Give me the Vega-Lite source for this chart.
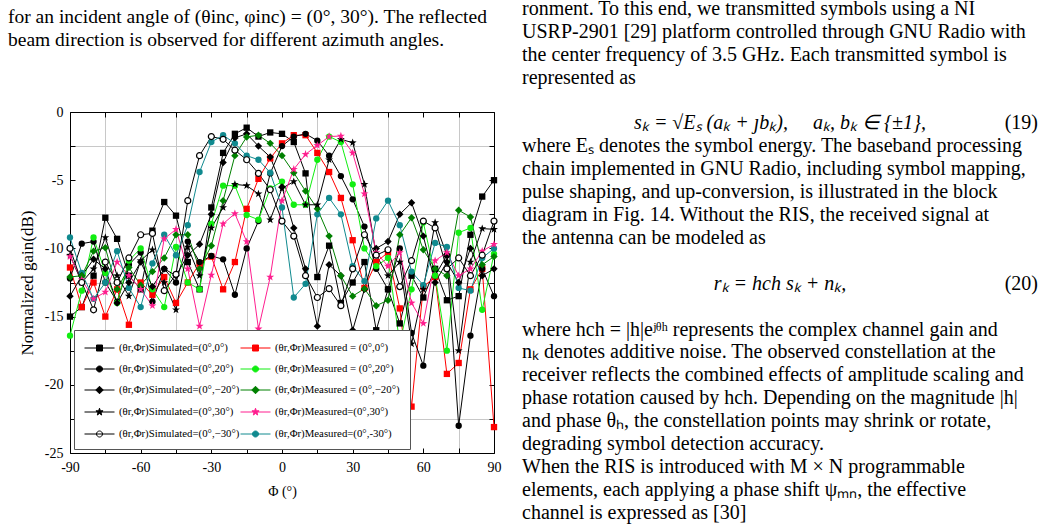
{
"$schema": "https://vega.github.io/schema/vega-lite/v6.json",
"autosize": "pad",
"padding": {"left": 8, "top": -2, "right": 0, "bottom": 0},
"bounds": "flush",
"spacing": 26,
"resolve": {"legend": {"fill": "independent", "stroke": "independent", "shape": "independent"}, "scale": {"fill": "independent", "stroke": "independent", "shape": "independent"}},
"config": {
  "view": {"stroke": null},
  "font": "Liberation Serif",
  "axis": {"domainColor": "black", "tickColor": "black", "labelColor": "black", "labelFont": "Liberation Serif", "labelFontSize": 14, "titleFont": "Liberation Serif", "titleFontSize": 14, "titleFontWeight": "normal", "titleColor": "black", "labelOverlap": false, "labelFlush": false},
  "legend": {"orient": "bottom-left", "offset": 4, "columns": 2, "strokeColor": "#555555", "fillColor": "white", "padding": 10, "rowPadding": 8, "columnPadding": -8, "symbolSize": 225, "symbolStrokeWidth": 1, "labelFont": "Liberation Serif", "labelFontSize": 10.8, "labelOffset": 19, "labelColor": "black", "labelLimit": 0}
},
"hconcat": [
{
  "width": 424, "height": 341,
  "title": {"text": ["for an incident angle of (θinc, φinc) = (0°, 30°). The reflected", "beam direction is observed for different azimuth angles."], "anchor": "start", "frame": "group", "dx": -62, "offset": 55, "fontSize": 19.5, "font": "Liberation Serif", "fontWeight": "normal", "lineHeight": 23, "color": "black"},
  "data": {"values": [
{"s":"S0","p":-90,"g":-15},{"s":"S0","p":-85,"g":-14.3},{"s":"S0","p":-80,"g":-12},{"s":"S0","p":-75,"g":-7.75},{"s":"S0","p":-70,"g":-9.3},{"s":"S0","p":-65,"g":-12},{"s":"S0","p":-60,"g":-13},{"s":"S0","p":-55,"g":-8.7},{"s":"S0","p":-50,"g":-6.6},{"s":"S0","p":-45,"g":-7.6},{"s":"S0","p":-40,"g":-11},{"s":"S0","p":-35,"g":-13},{"s":"S0","p":-30,"g":-7},{"s":"S0","p":-25,"g":-3},{"s":"S0","p":-20,"g":-1.6},{"s":"S0","p":-15,"g":-1.15},{"s":"S0","p":-10,"g":-1.8},{"s":"S0","p":-5,"g":-1.5},{"s":"S0","p":0,"g":-1.6},{"s":"S0","p":5,"g":-2.2},{"s":"S0","p":10,"g":-4.5},{"s":"S0","p":15,"g":-12.1},{"s":"S0","p":20,"g":-9.8},{"s":"S0","p":25,"g":-14},{"s":"S0","p":30,"g":-12.5},{"s":"S0","p":35,"g":-11},{"s":"S0","p":40,"g":-16},{"s":"S0","p":45,"g":-13},{"s":"S0","p":50,"g":-15.5},{"s":"S0","p":55,"g":-12},{"s":"S0","p":60,"g":-13.6},{"s":"S0","p":65,"g":-11.5},{"s":"S0","p":70,"g":-13.8},{"s":"S0","p":75,"g":-13.5},{"s":"S0","p":80,"g":-9},{"s":"S0","p":85,"g":-6.2},{"s":"S0","p":90,"g":-5},
{"s":"M0","p":-90,"g":-11.4},{"s":"M0","p":-85,"g":-14.3},{"s":"M0","p":-80,"g":-12.5},{"s":"M0","p":-75,"g":-15},{"s":"M0","p":-70,"g":-13},{"s":"M0","p":-65,"g":-15.6},{"s":"M0","p":-60,"g":-12.5},{"s":"M0","p":-55,"g":-13.4},{"s":"M0","p":-50,"g":-12.1},{"s":"M0","p":-45,"g":-14},{"s":"M0","p":-40,"g":-12.5},{"s":"M0","p":-35,"g":-11.1},{"s":"M0","p":-30,"g":-10.6},{"s":"M0","p":-25,"g":-13},{"s":"M0","p":-20,"g":-11},{"s":"M0","p":-15,"g":-7.1},{"s":"M0","p":-10,"g":-4.9},{"s":"M0","p":-5,"g":-3.4},{"s":"M0","p":0,"g":-2.3},{"s":"M0","p":5,"g":-1.7},{"s":"M0","p":10,"g":-1.7},{"s":"M0","p":15,"g":-3},{"s":"M0","p":20,"g":-4.4},{"s":"M0","p":25,"g":-6.3},{"s":"M0","p":30,"g":-9.4},{"s":"M0","p":35,"g":-12.9},{"s":"M0","p":40,"g":-11},{"s":"M0","p":45,"g":-10.3},{"s":"M0","p":50,"g":-14.4},{"s":"M0","p":55,"g":-21.6},{"s":"M0","p":60,"g":-12.8},{"s":"M0","p":65,"g":-12.1},{"s":"M0","p":70,"g":-19.2},{"s":"M0","p":75,"g":-18.4},{"s":"M0","p":80,"g":-13},{"s":"M0","p":85,"g":-11.5},{"s":"M0","p":90,"g":-23.1},
{"s":"S20","p":-90,"g":-12.2},{"s":"S20","p":-85,"g":-9.65},{"s":"S20","p":-80,"g":-9.5},{"s":"S20","p":-75,"g":-12.5},{"s":"S20","p":-70,"g":-13.9},{"s":"S20","p":-65,"g":-11.2},{"s":"S20","p":-60,"g":-10.3},{"s":"S20","p":-55,"g":-13.9},{"s":"S20","p":-50,"g":-11.5},{"s":"S20","p":-45,"g":-12.5},{"s":"S20","p":-40,"g":-9.5},{"s":"S20","p":-35,"g":-11},{"s":"S20","p":-30,"g":-10.55},{"s":"S20","p":-25,"g":-10.8},{"s":"S20","p":-20,"g":-13.4},{"s":"S20","p":-15,"g":-10},{"s":"S20","p":-10,"g":-8},{"s":"S20","p":-5,"g":-4.5},{"s":"S20","p":0,"g":-2.5},{"s":"S20","p":5,"g":-1.8},{"s":"S20","p":10,"g":-1.6},{"s":"S20","p":15,"g":-2.1},{"s":"S20","p":20,"g":-3.2},{"s":"S20","p":25,"g":-4.7},{"s":"S20","p":30,"g":-6.4},{"s":"S20","p":35,"g":-8.4},{"s":"S20","p":40,"g":-11.5},{"s":"S20","p":45,"g":-13},{"s":"S20","p":50,"g":-10},{"s":"S20","p":55,"g":-16.2},{"s":"S20","p":60,"g":-18.6},{"s":"S20","p":65,"g":-12},{"s":"S20","p":70,"g":-10.5},{"s":"S20","p":75,"g":-23},{"s":"S20","p":80,"g":-16.4},{"s":"S20","p":85,"g":-11.5},{"s":"S20","p":90,"g":-13.5},
{"s":"M20","p":-90,"g":-16.4},{"s":"M20","p":-85,"g":-13.1},{"s":"M20","p":-80,"g":-9.2},{"s":"M20","p":-75,"g":-11.8},{"s":"M20","p":-70,"g":-14},{"s":"M20","p":-65,"g":-10.9},{"s":"M20","p":-60,"g":-10},{"s":"M20","p":-55,"g":-13},{"s":"M20","p":-50,"g":-14.3},{"s":"M20","p":-45,"g":-9.9},{"s":"M20","p":-40,"g":-12.5},{"s":"M20","p":-35,"g":-13},{"s":"M20","p":-30,"g":-8.2},{"s":"M20","p":-25,"g":-5.4},{"s":"M20","p":-20,"g":-5.4},{"s":"M20","p":-15,"g":-7.55},{"s":"M20","p":-10,"g":-7.9},{"s":"M20","p":-5,"g":-5.6},{"s":"M20","p":0,"g":-5.1},{"s":"M20","p":5,"g":-6.8},{"s":"M20","p":10,"g":-6.8},{"s":"M20","p":15,"g":-3.5},{"s":"M20","p":20,"g":-1.8},{"s":"M20","p":25,"g":-2.2},{"s":"M20","p":30,"g":-5.3},{"s":"M20","p":35,"g":-10},{"s":"M20","p":40,"g":-11.3},{"s":"M20","p":45,"g":-10.7},{"s":"M20","p":50,"g":-17},{"s":"M20","p":55,"g":-13},{"s":"M20","p":60,"g":-8.1},{"s":"M20","p":65,"g":-12},{"s":"M20","p":70,"g":-17.5},{"s":"M20","p":75,"g":-8.85},{"s":"M20","p":80,"g":-8.5},{"s":"M20","p":85,"g":-14.5},{"s":"M20","p":90,"g":-10.4},
{"s":"Sn20","p":-90,"g":-13.5},{"s":"Sn20","p":-85,"g":-12},{"s":"Sn20","p":-80,"g":-10.8},{"s":"Sn20","p":-75,"g":-11.5},{"s":"Sn20","p":-70,"g":-14},{"s":"Sn20","p":-65,"g":-12.5},{"s":"Sn20","p":-60,"g":-11},{"s":"Sn20","p":-55,"g":-12.8},{"s":"Sn20","p":-50,"g":-11.5},{"s":"Sn20","p":-45,"g":-12},{"s":"Sn20","p":-40,"g":-10.5},{"s":"Sn20","p":-35,"g":-9.7},{"s":"Sn20","p":-30,"g":-7.5},{"s":"Sn20","p":-25,"g":-3.7},{"s":"Sn20","p":-20,"g":-1.9},{"s":"Sn20","p":-15,"g":-1.6},{"s":"Sn20","p":-10,"g":-2.5},{"s":"Sn20","p":-5,"g":-3.3},{"s":"Sn20","p":0,"g":-5.5},{"s":"Sn20","p":5,"g":-8.5},{"s":"Sn20","p":10,"g":-11.5},{"s":"Sn20","p":15,"g":-15.7},{"s":"Sn20","p":20,"g":-11.2},{"s":"Sn20","p":25,"g":-12},{"s":"Sn20","p":30,"g":-16},{"s":"Sn20","p":35,"g":-13},{"s":"Sn20","p":40,"g":-10},{"s":"Sn20","p":45,"g":-9.5},{"s":"Sn20","p":50,"g":-7.5},{"s":"Sn20","p":55,"g":-6.65},{"s":"Sn20","p":60,"g":-9.1},{"s":"Sn20","p":65,"g":-12.5},{"s":"Sn20","p":70,"g":-11},{"s":"Sn20","p":75,"g":-12.5},{"s":"Sn20","p":80,"g":-10},{"s":"Sn20","p":85,"g":-12},{"s":"Sn20","p":90,"g":-11.5},
{"s":"Mn20","p":-90,"g":-12.1},{"s":"Mn20","p":-85,"g":-12},{"s":"Mn20","p":-80,"g":-10.2},{"s":"Mn20","p":-75,"g":-9.95},{"s":"Mn20","p":-70,"g":-13},{"s":"Mn20","p":-65,"g":-11.4},{"s":"Mn20","p":-60,"g":-12.7},{"s":"Mn20","p":-55,"g":-11.7},{"s":"Mn20","p":-50,"g":-10.7},{"s":"Mn20","p":-45,"g":-9},{"s":"Mn20","p":-40,"g":-9},{"s":"Mn20","p":-35,"g":-11.5},{"s":"Mn20","p":-30,"g":-9.8},{"s":"Mn20","p":-25,"g":-6.5},{"s":"Mn20","p":-20,"g":-3.2},{"s":"Mn20","p":-15,"g":-1.83},{"s":"Mn20","p":-10,"g":-1.7},{"s":"Mn20","p":-5,"g":-2.3},{"s":"Mn20","p":0,"g":-3.2},{"s":"Mn20","p":5,"g":-4.45},{"s":"Mn20","p":10,"g":-5.8},{"s":"Mn20","p":15,"g":-7.1},{"s":"Mn20","p":20,"g":-9.1},{"s":"Mn20","p":25,"g":-12},{"s":"Mn20","p":30,"g":-13.5},{"s":"Mn20","p":35,"g":-12.95},{"s":"Mn20","p":40,"g":-14.2},{"s":"Mn20","p":45,"g":-13.8},{"s":"Mn20","p":50,"g":-9},{"s":"Mn20","p":55,"g":-7.75},{"s":"Mn20","p":60,"g":-10.1},{"s":"Mn20","p":65,"g":-11.5},{"s":"Mn20","p":70,"g":-12},{"s":"Mn20","p":75,"g":-7.2},{"s":"Mn20","p":80,"g":-7.7},{"s":"Mn20","p":85,"g":-11.2},{"s":"Mn20","p":90,"g":-10.6},
{"s":"S30","p":-90,"g":-10.5},{"s":"S30","p":-85,"g":-12.5},{"s":"S30","p":-80,"g":-11.5},{"s":"S30","p":-75,"g":-9.2},{"s":"S30","p":-70,"g":-12},{"s":"S30","p":-65,"g":-13.5},{"s":"S30","p":-60,"g":-10.9},{"s":"S30","p":-55,"g":-10.1},{"s":"S30","p":-50,"g":-12.5},{"s":"S30","p":-45,"g":-14.5},{"s":"S30","p":-40,"g":-9.9},{"s":"S30","p":-35,"g":-12},{"s":"S30","p":-30,"g":-8.5},{"s":"S30","p":-25,"g":-7},{"s":"S30","p":-20,"g":-5.3},{"s":"S30","p":-15,"g":-5.4},{"s":"S30","p":-10,"g":-6},{"s":"S30","p":-5,"g":-7.9},{"s":"S30","p":0,"g":-5.6},{"s":"S30","p":5,"g":-5.1},{"s":"S30","p":10,"g":-6.8},{"s":"S30","p":15,"g":-6.8},{"s":"S30","p":20,"g":-3.5},{"s":"S30","p":25,"g":-2},{"s":"S30","p":30,"g":-2.25},{"s":"S30","p":35,"g":-5.3},{"s":"S30","p":40,"g":-10.5},{"s":"S30","p":45,"g":-12},{"s":"S30","p":50,"g":-11},{"s":"S30","p":55,"g":-17},{"s":"S30","p":60,"g":-13},{"s":"S30","p":65,"g":-8.1},{"s":"S30","p":70,"g":-10.5},{"s":"S30","p":75,"g":-17.5},{"s":"S30","p":80,"g":-11},{"s":"S30","p":85,"g":-8.55},{"s":"S30","p":90,"g":-8.6},
{"s":"M30","p":-90,"g":-10.6},{"s":"M30","p":-85,"g":-12.3},{"s":"M30","p":-80,"g":-13.7},{"s":"M30","p":-75,"g":-13.2},{"s":"M30","p":-70,"g":-11},{"s":"M30","p":-65,"g":-12},{"s":"M30","p":-60,"g":-13},{"s":"M30","p":-55,"g":-14.2},{"s":"M30","p":-50,"g":-9.3},{"s":"M30","p":-45,"g":-8.6},{"s":"M30","p":-40,"g":-11.5},{"s":"M30","p":-35,"g":-15.7},{"s":"M30","p":-30,"g":-11.95},{"s":"M30","p":-25,"g":-8.2},{"s":"M30","p":-20,"g":-7.45},{"s":"M30","p":-15,"g":-9.5},{"s":"M30","p":-10,"g":-15.9},{"s":"M30","p":-5,"g":-12.1},{"s":"M30","p":0,"g":-6.5},{"s":"M30","p":5,"g":-4.2},{"s":"M30","p":10,"g":-3.1},{"s":"M30","p":15,"g":-2.45},{"s":"M30","p":20,"g":-1.8},{"s":"M30","p":25,"g":-1.76},{"s":"M30","p":30,"g":-3},{"s":"M30","p":35,"g":-6},{"s":"M30","p":40,"g":-10.3},{"s":"M30","p":45,"g":-11.3},{"s":"M30","p":50,"g":-10.3},{"s":"M30","p":55,"g":-14},{"s":"M30","p":60,"g":-15.5},{"s":"M30","p":65,"g":-10.9},{"s":"M30","p":70,"g":-10.3},{"s":"M30","p":75,"g":-12},{"s":"M30","p":80,"g":-11.5},{"s":"M30","p":85,"g":-10.2},{"s":"M30","p":90,"g":-9.7},
{"s":"Sn30","p":-90,"g":-10},{"s":"Sn30","p":-85,"g":-12.5},{"s":"Sn30","p":-80,"g":-14.5},{"s":"Sn30","p":-75,"g":-11},{"s":"Sn30","p":-70,"g":-12.5},{"s":"Sn30","p":-65,"g":-10.7},{"s":"Sn30","p":-60,"g":-9},{"s":"Sn30","p":-55,"g":-8.9},{"s":"Sn30","p":-50,"g":-13.1},{"s":"Sn30","p":-45,"g":-11.9},{"s":"Sn30","p":-40,"g":-6.5},{"s":"Sn30","p":-35,"g":-3.2},{"s":"Sn30","p":-30,"g":-1.8},{"s":"Sn30","p":-25,"g":-2},{"s":"Sn30","p":-20,"g":-2.8},{"s":"Sn30","p":-15,"g":-3.5},{"s":"Sn30","p":-10,"g":-4.5},{"s":"Sn30","p":-5,"g":-5.7},{"s":"Sn30","p":0,"g":-8},{"s":"Sn30","p":5,"g":-9.1},{"s":"Sn30","p":10,"g":-12},{"s":"Sn30","p":15,"g":-13.6},{"s":"Sn30","p":20,"g":-12.95},{"s":"Sn30","p":25,"g":-14.2},{"s":"Sn30","p":30,"g":-11.5},{"s":"Sn30","p":35,"g":-9},{"s":"Sn30","p":40,"g":-10.5},{"s":"Sn30","p":45,"g":-10.1},{"s":"Sn30","p":50,"g":-12.8},{"s":"Sn30","p":55,"g":-10.9},{"s":"Sn30","p":60,"g":-8},{"s":"Sn30","p":65,"g":-8.5},{"s":"Sn30","p":70,"g":-11.5},{"s":"Sn30","p":75,"g":-10.7},{"s":"Sn30","p":80,"g":-12},{"s":"Sn30","p":85,"g":-10.5},{"s":"Sn30","p":90,"g":-8},
{"s":"Mn30","p":-90,"g":-9.2},{"s":"Mn30","p":-85,"g":-11.8},{"s":"Mn30","p":-80,"g":-13.7},{"s":"Mn30","p":-75,"g":-12.5},{"s":"Mn30","p":-70,"g":-10.2},{"s":"Mn30","p":-65,"g":-12.9},{"s":"Mn30","p":-60,"g":-14.3},{"s":"Mn30","p":-55,"g":-11.1},{"s":"Mn30","p":-50,"g":-9},{"s":"Mn30","p":-45,"g":-10.5},{"s":"Mn30","p":-40,"g":-8.3},{"s":"Mn30","p":-35,"g":-4.4},{"s":"Mn30","p":-30,"g":-2.2},{"s":"Mn30","p":-25,"g":-1.7},{"s":"Mn30","p":-20,"g":-2.3},{"s":"Mn30","p":-15,"g":-3.2},{"s":"Mn30","p":-10,"g":-3.5},{"s":"Mn30","p":-5,"g":-4.45},{"s":"Mn30","p":0,"g":-7},{"s":"Mn30","p":5,"g":-13.6},{"s":"Mn30","p":10,"g":-12.6},{"s":"Mn30","p":15,"g":-7.5},{"s":"Mn30","p":20,"g":-6.3},{"s":"Mn30","p":25,"g":-7.5},{"s":"Mn30","p":30,"g":-11.3},{"s":"Mn30","p":35,"g":-12.4},{"s":"Mn30","p":40,"g":-7.8},{"s":"Mn30","p":45,"g":-6.5},{"s":"Mn30","p":50,"g":-8.3},{"s":"Mn30","p":55,"g":-11.7},{"s":"Mn30","p":60,"g":-12.7},{"s":"Mn30","p":65,"g":-9.6},{"s":"Mn30","p":70,"g":-9.9},{"s":"Mn30","p":75,"g":-12.9},{"s":"Mn30","p":80,"g":-13.1},{"s":"Mn30","p":85,"g":-10.7},{"s":"Mn30","p":90,"g":-10}
  ]},
  "layer": [
    {
      "mark": {"type": "line", "strokeWidth": 1},
      "encoding": {
        "x": {"field": "p", "type": "quantitative", "scale": {"domain": [-90, 90], "nice": false, "zero": false},
              "axis": {"orient": "bottom", "values": [-90,-75,-60,-45,-30,-15,0,15,30,45,60,75,90], "labelExpr": "datum.value % 30 === 0 ? '' + datum.value : ''", "tickSize": -5, "labelPadding": 12, "grid": true, "gridColor": "#c8c8c8", "gridOpacity": {"condition": {"test": "datum.value % 30 === 0", "value": 0}, "value": 1}, "title": "Φ (°)", "titlePadding": 10}},
        "y": {"field": "g", "type": "quantitative", "scale": {"domain": [-25, 0], "nice": false, "zero": false},
              "axis": {"orient": "left", "values": [0,-2.5,-5,-7.5,-10,-12.5,-15,-17.5,-20,-22.5,-25], "labelExpr": "datum.value % 5 === 0 ? '' + datum.value : ''", "tickSize": -5, "labelPadding": 12, "grid": true, "gridColor": "#c8c8c8", "gridOpacity": {"condition": {"test": "datum.value % 5 === 0", "value": 0}, "value": 1}, "title": "Normalized gain(dB)", "titleFontSize": 17, "titlePadding": 8}},
        "color": {"field": "s", "type": "nominal", "scale": {"domain": ["S0","M0","S20","M20","Sn20","Mn20","S30","M30","Sn30","Mn30"], "range": ["#000000","#ff0000","#000000","#11ee11","#000000","#008000","#000000","#ff1f8f","#000000","#108a8f"]}, "legend": null}
      }
    },
    {
      "transform": [{"filter": "datum.s === 'S0' || datum.s === 'M0'"}],
      "mark": {"type": "point", "shape": "square", "filled": true, "size": 40, "opacity": 1},
      "encoding": {
        "x": {"field": "p", "type": "quantitative", "axis": {"orient": "top", "values": [-90,-75,-60,-45,-30,-15,0,15,30,45,60,75,90], "labels": false, "tickSize": -5, "grid": false, "title": null}},
        "y": {"field": "g", "type": "quantitative", "axis": {"orient": "right", "values": [0,-2.5,-5,-7.5,-10,-12.5,-15,-17.5,-20,-22.5,-25], "labels": false, "tickSize": -5, "grid": false, "title": null}},
        "color": {"field": "s", "type": "nominal", "legend": null}
      }
    },
    {
      "transform": [{"filter": "datum.s === 'S20' || datum.s === 'M20' || datum.s === 'Mn30'"}],
      "mark": {"type": "point", "shape": "circle", "filled": true, "size": 40, "opacity": 1},
      "encoding": {
        "x": {"field": "p", "type": "quantitative", "axis": null},
        "y": {"field": "g", "type": "quantitative", "axis": null},
        "color": {"field": "s", "type": "nominal", "legend": null}
      }
    },
    {
      "transform": [{"filter": "datum.s === 'Sn20' || datum.s === 'Mn20'"}],
      "mark": {"type": "point", "shape": "diamond", "filled": true, "size": 55, "opacity": 1},
      "encoding": {
        "x": {"field": "p", "type": "quantitative", "axis": null},
        "y": {"field": "g", "type": "quantitative", "axis": null},
        "color": {"field": "s", "type": "nominal", "legend": null}
      }
    },
    {
      "transform": [{"filter": "datum.s === 'S30' || datum.s === 'M30'"}],
      "mark": {"type": "point", "shape": "M0,-1L0.235,-0.324L0.951,-0.309L0.38,0.124L0.588,0.809L0,0.4L-0.588,0.809L-0.38,0.124L-0.951,-0.309L-0.235,-0.324Z", "filled": true, "size": 70, "opacity": 1},
      "encoding": {
        "x": {"field": "p", "type": "quantitative", "axis": null},
        "y": {"field": "g", "type": "quantitative", "axis": null},
        "color": {"field": "s", "type": "nominal", "legend": null}
      }
    },
    {
      "transform": [{"filter": "datum.s === 'Sn30'"}],
      "mark": {"type": "point", "shape": "circle", "filled": false, "fill": "white", "stroke": "black", "strokeWidth": 1.2, "size": 36, "opacity": 1},
      "encoding": {
        "x": {"field": "p", "type": "quantitative", "axis": null},
        "y": {"field": "g", "type": "quantitative", "axis": null}
      }
    },
    {
      "mark": {"type": "point", "filled": true, "opacity": 1, "fillOpacity": 0, "strokeOpacity": 0, "strokeWidth": 1},
      "encoding": {
        "x": {"field": "p", "type": "quantitative", "axis": null},
        "y": {"field": "g", "type": "quantitative", "axis": null},
        "fill": {"field": "s", "type": "nominal", "scale": {"domain": ["S0","S20","Sn20","S30","Sn30","M0","M20","Mn20","M30","Mn30"], "range": ["#000000","#000000","#000000","#000000","#ffffff","#ff0000","#11ee11","#008000","#ff1f8f","#108a8f"]},
                 "legend": {"title": null, "labelExpr": "{'S0':'(θr,Φr)Simulated=(0°,0°)','M0':'(θr,Φr)Measured = (0°,0°)','S20':'(θr,Φr)Simulated=(0°,20°)','M20':'(θr,Φr)Measured = (0°,20°)','Sn20':'(θr,Φr)Simulated=(0°,−20°)','Mn20':'(θr,Φr)Measured = (0°,−20°)','S30':'(θr,Φr)Simulated=(0°,30°)','M30':'(θr,Φr)Measured=(0°,30°)','Sn30':'(θr,Φr)Simulated=(0°,−30°)','Mn30':'(θr,Φr)Measured=(0°,-30°)'}[datum.label]", "encode": {"symbols": {"update": {"fillOpacity": {"value": 1}, "strokeOpacity": {"value": 1}, "opacity": {"value": 1}}}}}},
        "stroke": {"field": "s", "type": "nominal", "scale": {"domain": ["S0","S20","Sn20","S30","Sn30","M0","M20","Mn20","M30","Mn30"], "range": ["#000000","#000000","#000000","#000000","#000000","#ff0000","#11ee11","#008000","#ff1f8f","#108a8f"]},
                 "legend": {"title": null, "labelExpr": "{'S0':'(θr,Φr)Simulated=(0°,0°)','M0':'(θr,Φr)Measured = (0°,0°)','S20':'(θr,Φr)Simulated=(0°,20°)','M20':'(θr,Φr)Measured = (0°,20°)','Sn20':'(θr,Φr)Simulated=(0°,−20°)','Mn20':'(θr,Φr)Measured = (0°,−20°)','S30':'(θr,Φr)Simulated=(0°,30°)','M30':'(θr,Φr)Measured=(0°,30°)','Sn30':'(θr,Φr)Simulated=(0°,−30°)','Mn30':'(θr,Φr)Measured=(0°,-30°)'}[datum.label]", "encode": {"symbols": {"update": {"fillOpacity": {"value": 1}, "strokeOpacity": {"value": 1}, "opacity": {"value": 1}}}}}},
        "shape": {"field": "s", "type": "nominal", "scale": {"domain": ["S0","S20","Sn20","S30","Sn30","M0","M20","Mn20","M30","Mn30"], "range": [
            "M-1,0L3,0M0.6,-0.4L1.4,-0.4L1.4,0.4L0.6,0.4Z",
            "M-1,0L3,0M1.4,0A0.4,0.4,0,1,1,0.6,0A0.4,0.4,0,1,1,1.4,0Z",
            "M-1,0L3,0M1,-0.5L1.5,0L1,0.5L0.5,0Z",
            "M-1,0L3,0M1,-0.5L1.118,-0.162L1.476,-0.155L1.19,0.062L1.294,0.405L1,0.2L0.706,0.405L0.81,0.062L0.524,-0.155L0.882,-0.162Z",
            "M-1,0L3,0M1.4,0A0.4,0.4,0,1,1,0.6,0A0.4,0.4,0,1,1,1.4,0Z",
            "M-1,0L3,0M0.6,-0.4L1.4,-0.4L1.4,0.4L0.6,0.4Z",
            "M-1,0L3,0M1.4,0A0.4,0.4,0,1,1,0.6,0A0.4,0.4,0,1,1,1.4,0Z",
            "M-1,0L3,0M1,-0.5L1.5,0L1,0.5L0.5,0Z",
            "M-1,0L3,0M1,-0.5L1.118,-0.162L1.476,-0.155L1.19,0.062L1.294,0.405L1,0.2L0.706,0.405L0.81,0.062L0.524,-0.155L0.882,-0.162Z",
            "M-1,0L3,0M1.4,0A0.4,0.4,0,1,1,0.6,0A0.4,0.4,0,1,1,1.4,0Z"]},
                 "legend": {"title": null, "labelExpr": "{'S0':'(θr,Φr)Simulated=(0°,0°)','M0':'(θr,Φr)Measured = (0°,0°)','S20':'(θr,Φr)Simulated=(0°,20°)','M20':'(θr,Φr)Measured = (0°,20°)','Sn20':'(θr,Φr)Simulated=(0°,−20°)','Mn20':'(θr,Φr)Measured = (0°,−20°)','S30':'(θr,Φr)Simulated=(0°,30°)','M30':'(θr,Φr)Measured=(0°,30°)','Sn30':'(θr,Φr)Simulated=(0°,−30°)','Mn30':'(θr,Φr)Measured=(0°,-30°)'}[datum.label]", "encode": {"symbols": {"update": {"fillOpacity": {"value": 1}, "strokeOpacity": {"value": 1}, "opacity": {"value": 1}}}}}}
      }
    }
  ],
  "resolve": {"axis": {"x": "independent", "y": "independent"}}
},
{
  "width": 520, "height": 419,
  "data": {"values": [
    {"r": 0, "a": "l", "t": "ronment. To this end, we transmitted symbols using a NI"},
    {"r": 1, "a": "l", "t": "USRP-2901 [29] platform controlled through GNU Radio with"},
    {"r": 2, "a": "l", "t": "the center frequency of 3.5 GHz. Each transmitted symbol is"},
    {"r": 3, "a": "l", "t": "represented as"},
    {"r": 5, "a": "c", "t": "sₖ = √Eₛ (aₖ + ȷbₖ),\u00a0\u00a0\u00a0\u00a0\u00a0aₖ, bₖ ∈ {±1},"},
    {"r": 5, "a": "r", "t": "(19)"},
    {"r": 6, "a": "l", "t": "where Eₛ denotes the symbol energy. The baseband processing"},
    {"r": 7, "a": "l", "t": "chain implemented in GNU Radio, including symbol mapping,"},
    {"r": 8, "a": "l", "t": "pulse shaping, and up-conversion, is illustrated in the block"},
    {"r": 9, "a": "l", "t": "diagram in Fig. 14. Without the RIS, the received signal at"},
    {"r": 10, "a": "l", "t": "the antenna can be modeled as"},
    {"r": 12, "a": "c", "t": "rₖ = hch sₖ + nₖ,"},
    {"r": 12, "a": "r", "t": "(20)"},
    {"r": 14, "a": "l", "t": "where hch = |h|eʲᶿʰ represents the complex channel gain and"},
    {"r": 15, "a": "l", "t": "nₖ denotes additive noise. The observed constellation at the"},
    {"r": 16, "a": "l", "t": "receiver reflects the combined effects of amplitude scaling and"},
    {"r": 17, "a": "l", "t": "phase rotation caused by hch. Depending on the magnitude |h|"},
    {"r": 18, "a": "l", "t": "and phase θₕ, the constellation points may shrink or rotate,"},
    {"r": 19, "a": "l", "t": "degrading symbol detection accuracy."},
    {"r": 20, "a": "l", "t": "\u00a0\u00a0\u00a0\u00a0When the RIS is introduced with M × N programmable"},
    {"r": 21, "a": "l", "t": "elements, each applying a phase shift ψₘₙ, the effective"},
    {"r": 22, "a": "l", "t": "channel is expressed as [30]"}
  ]},
  "layer": [
    {
      "transform": [{"filter": "datum.a === 'l'"}],
      "mark": {"type": "text", "align": "left", "baseline": "middle", "dx": -258, "font": "Liberation Serif", "fontSize": 20, "color": "black"},
      "encoding": {
        "y": {"field": "r", "type": "quantitative", "scale": {"domain": [4.498, 22.795], "reverse": true, "nice": false, "zero": false}, "axis": null},
        "text": {"field": "t", "type": "nominal"}
      }
    },
    {
      "transform": [{"filter": "datum.a === 'c'"}],
      "mark": {"type": "text", "align": "center", "baseline": "middle", "font": "Liberation Serif", "fontSize": 20, "fontStyle": "italic", "color": "black"},
      "encoding": {
        "y": {"field": "r", "type": "quantitative", "axis": null},
        "text": {"field": "t", "type": "nominal"}
      }
    },
    {
      "transform": [{"filter": "datum.a === 'r'"}],
      "mark": {"type": "text", "align": "right", "baseline": "middle", "dx": 258, "font": "Liberation Serif", "fontSize": 20, "color": "black"},
      "encoding": {
        "y": {"field": "r", "type": "quantitative", "axis": null},
        "text": {"field": "t", "type": "nominal"}
      }
    }
  ]
}
]
}
